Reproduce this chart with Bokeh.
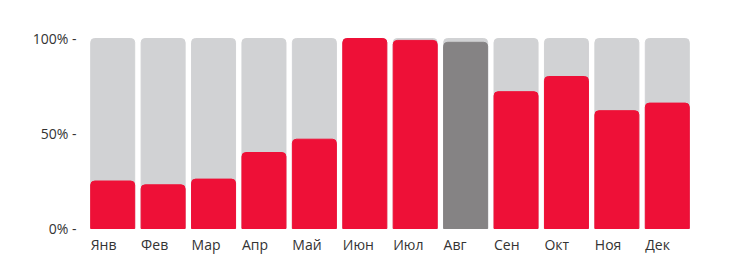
from bokeh.plotting import figure
from bokeh.models import FixedTicker, ColumnDataSource, Range1d, FactorRange
from bokeh.transform import dodge
from bokeh.core.properties import value
from bokeh.embed import file_html
from bokeh.resources import INLINE

months = ["Янв", "Фев", "Мар", "Апр", "Май", "Июн", "Июл", "Авг", "Сен", "Окт", "Ноя", "Дек"]
values = [25, 23, 26, 40, 47, 100, 99, 98, 72, 80, 62, 66]
full = [100] * 12
y_ticks = [0, 50, 100]
y_tick_labels = ["0% -", "50% -", "100% -"]
highlight = "Авг"

RED = "#EE1037"
BG = "#D1D2D4"
DARK = "#858384"
colors = [DARK if m == highlight else RED for m in months]

src = ColumnDataSource(dict(month=months, value=values, full=full, color=colors))

px_per_unit = 190 / 100
p = figure(width=747, height=265, output_backend="svg", toolbar_location=None,
           x_range=FactorRange(*months, range_padding=0),
           y_range=Range1d(-34 / px_per_unit, 100 + 8 / px_per_unit),
           min_border_left=87, min_border_right=55, min_border_top=30, min_border_bottom=3)

bw = 44 / 50.4
p.vbar(x="month", top="full", bottom=0, width=bw, color=BG, source=src, border_radius=(4, 4, 0, 0))
p.vbar(x="month", top="value", bottom=0, width=bw, color="color", source=src, border_radius=(4, 4, 0, 0))

p.text(x=dodge("month", -bw / 2, range=p.x_range), y=-16 / px_per_unit, text="month", source=src,
       text_font=value("Open Sans"), text_font_size="14px", text_color="#333333",
       text_align="left", text_baseline="alphabetic")

p.xaxis.visible = False
yax = p.yaxis[0]
yax.ticker = FixedTicker(ticks=y_ticks)
yax.major_label_overrides = {t: l for t, l in zip(y_ticks, y_tick_labels)}
yax.axis_line_color = None
yax.major_tick_line_color = None
yax.minor_tick_line_color = None
yax.major_tick_out = 0
yax.major_tick_in = 0
yax.major_label_standoff = 11
yax.major_label_text_font = "Open Sans"
yax.major_label_text_font_size = "14px"
yax.major_label_text_color = "#333333"

p.grid.visible = False
p.outline_line_color = None
p.background_fill_color = "white"
p.border_fill_color = "white"

open("out.html", "w").write(file_html(p, INLINE))
